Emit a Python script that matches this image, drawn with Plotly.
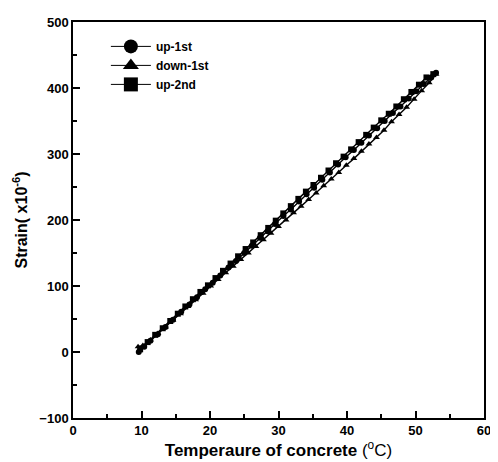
import plotly.graph_objects as go

# up-1st (circles)
up1_temp = [9.6, 10.4, 11.3, 12.4, 13.5, 14.6, 15.8, 17.0, 18.1, 19.3, 20.4, 21.5, 22.7, 23.8,
            25.0, 26.1, 27.3, 28.4, 29.5, 30.7, 31.8, 33.0, 34.1, 35.2, 36.4, 37.5, 38.7, 39.8,
            41.0, 42.1, 43.2, 44.4, 45.5, 46.7, 47.8, 49.0, 50.1, 51.2, 52.3, 53.0]
up1_strain = [0, 8, 17, 27, 38, 49, 61, 72, 83, 95, 105, 116, 128, 138,
              150, 161, 173, 183, 194, 206, 216, 228, 239, 249, 261, 272, 284, 295,
              306, 317, 328, 339, 350, 362, 372, 384, 395, 406, 416, 423]

# down-1st (triangles)
down1_temp = [53.0, 52.0, 50.9, 49.8, 48.7, 47.6, 46.5, 45.4, 44.3, 43.2, 42.1, 41.0, 39.9, 38.8,
              37.7, 36.6, 35.5, 34.4, 33.3, 32.2, 31.1, 30.0, 28.9, 27.8, 26.7, 25.6, 24.5, 23.4,
              22.3, 21.2, 20.1, 19.0, 17.9, 16.8, 15.7, 14.6, 13.5, 12.4, 11.3, 10.2, 9.5]
down1_strain = [421, 408, 396, 383, 371, 360, 349, 336, 325, 315, 304, 293, 283, 272,
                262, 252, 241, 231, 221, 211, 200, 190, 180, 170, 160, 150, 140, 130,
                120, 110, 100, 89, 79, 69, 58, 48, 38, 28, 18, 10, 8]

# up-2nd (squares)
up2_temp = [9.8, 10.9, 12.0, 13.1, 14.2, 15.3, 16.4, 17.5, 18.6, 19.7, 20.8, 21.9, 23.0, 24.1,
            25.2, 26.3, 27.4, 28.5, 29.6, 30.7, 31.8, 32.9, 34.0, 35.1, 36.2, 37.3, 38.4, 39.5,
            40.6, 41.7, 42.8, 43.9, 45.0, 46.1, 47.2, 48.3, 49.4, 50.5, 51.6, 52.6]
up2_strain = [4, 15, 26, 36, 47, 58, 69, 80, 91, 101, 112, 123, 134, 145,
              156, 166, 177, 188, 199, 210, 221, 232, 243, 253, 264, 275, 286, 296,
              307, 318, 329, 340, 351, 361, 372, 383, 394, 405, 416, 421]

series_names = ["up-1st", "down-1st", "up-2nd"]
series_symbols = ["circle", "triangle-up", "square"]
series_x = [up1_temp, down1_temp, up2_temp]
series_y = [up1_strain, down1_strain, up2_strain]

fig = go.Figure()
for name, sym, xs, ys in zip(series_names, series_symbols, series_x, series_y):
    fig.add_trace(go.Scatter(
        x=xs, y=ys, mode="lines+markers", name=name, showlegend=False,
        line=dict(color="black", width=1.4),
        marker=dict(symbol=sym, size=6, color="black"),
    ))
# legend entries with larger markers
for name, sym in zip(series_names, series_symbols):
    fig.add_trace(go.Scatter(
        x=[None], y=[None], mode="lines+markers", name=name,
        line=dict(color="black", width=1),
        marker=dict(symbol=sym, size=14, color="black"),
    ))

font_family = "Liberation Sans, Arial, sans-serif"
axis_common = dict(
    showline=True, linecolor="black", linewidth=1.5, mirror=True,
    ticks="inside", ticklen=7, tickwidth=1.5, tickcolor="black",
    showgrid=False, zeroline=False,
    tickfont=dict(family=font_family, size=13, color="black", weight="bold"),
)

fig.update_xaxes(
    range=[0, 60], tick0=0, dtick=10,
    minor=dict(ticks="inside", ticklen=4, dtick=5, tickcolor="black", tickwidth=1.5),
    title=dict(text="<b>Temperaure of concrete</b> (<sup>o</sup>C)",
               font=dict(family=font_family, size=17, color="black"), standoff=4),
    **axis_common,
)
fig.update_yaxes(
    range=[-100, 500], tick0=-100, dtick=100,
    minor=dict(ticks="inside", ticklen=4, dtick=50, tickcolor="black", tickwidth=1.5),
    title=dict(text="<b>Strain( x10<sup>-6</sup>)</b>",
               font=dict(family=font_family, size=16, color="black"), standoff=8),
    **axis_common,
)

# page body has an 8px margin, so the figure is sized to fit the 498x462 window
fig.update_layout(
    width=490, height=454,
    margin=dict(l=65, r=10, t=7, b=44),
    paper_bgcolor="white", plot_bgcolor="white",
    legend=dict(x=0.08, y=0.975, xanchor="left", yanchor="top",
                bgcolor="rgba(0,0,0,0)", borderwidth=0,
                font=dict(family=font_family, size=12, color="black", weight="bold"),
                tracegroupgap=0, itemwidth=40),
)

fig.write_html("out.html")
